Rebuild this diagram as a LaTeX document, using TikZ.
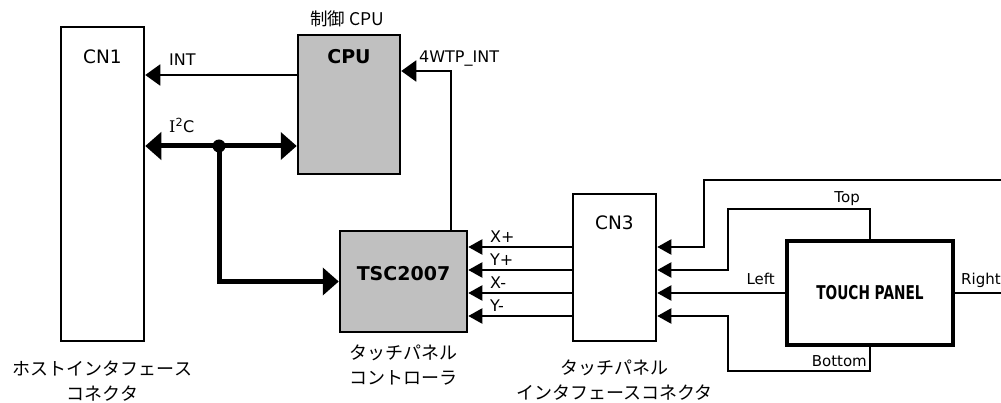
\documentclass[tikz,border=0pt]{standalone}
\usepackage{fontspec}
\setmainfont{DejaVu Sans}
\newfontfamily\jp{Noto Sans CJK JP}
\newfontfamily\narrowf[FakeStretch=0.72]{DejaVu Sans}
\newfontfamily\serifI{DejaVu Serif}
\usetikzlibrary{arrows.meta}
\definecolor{cgray}{HTML}{C0C0C0}
\begin{document}
\begin{tikzpicture}[x=1pt,y=-1pt,
  blk/.style={draw,line width=2.5pt,inner sep=0pt},
  wire/.style={line width=2pt},
  bus/.style={line width=5pt},
  tA/.style={-{Triangle[length=15pt,width=21pt]}},
  sA/.style={-{Triangle[length=14pt,width=15pt]}},
  bA/.style={-{Triangle[length=16pt,width=27pt]}},
  bAA/.style={{Triangle[length=16pt,width=27pt]}-{Triangle[length=16pt,width=27pt]}},
  big/.style={inner sep=0pt,font=\fontsize{18.5}{22}\selectfont},
  bigb/.style={inner sep=0pt,font=\fontsize{19}{22}\selectfont\bfseries},
  sml/.style={inner sep=0pt,font=\fontsize{15}{18}\selectfont},
  smm/.style={inner sep=0pt,font=\fontsize{16}{18}\selectfont},
  jpl/.style={inner sep=0pt,align=center,font=\fontsize{18}{25}\selectfont\jp}]
\useasboundingbox (0,0) rectangle (1001,403);

% blocks
\node[blk,minimum width=83pt,minimum height=314pt] (cn1) at (102.5,184) {};
\node[big] (cn1t) at (102.5,57) {CN1};
\node[blk,fill=cgray,minimum width=102pt,minimum height=139pt] (cpu) at (349,104.5) {};
\node[bigb] (cput) at (349,57) {CPU};
\node[inner sep=0pt,font=\fontsize{17.5}{20}\selectfont\jp] (cpuc) at (347,19) {制御 CPU};
\node[blk,fill=cgray,minimum width=127pt,minimum height=101pt] (tsc) at (403.5,281.5) {};
\node[bigb] (tsct) at (403.5,274) {TSC2007};
\node[blk,minimum width=83pt,minimum height=147pt] (cn3) at (614.5,267.5) {};
\node[big] (cn3t) at (614.5,223) {CN3};
\node[blk,line width=4pt,minimum width=166pt,minimum height=103pt,
      font=\fontsize{19}{22}\selectfont\narrowf\bfseries] (tp) at (870,293) {TOUCH PANEL};

% captions
\node[jpl] (cn1l) at (102.5,381.5) {ホストインタフェース\\コネクタ};
\node[jpl] (tscl) at (403.5,365.5) {タッチパネル\\コントローラ};
\node[jpl] (cn3l) at (614.5,380) {タッチパネル\\インタフェースコネクタ};

% INT
\coordinate (rint) at (0,75);
\draw[wire,tA] (rint -| cpu.west) -- (rint -| cn1.east);
\node[smm,anchor=base west] (intl) at (169,66) {INT};

% I2C bus
\coordinate (jn) at (219,146);
\draw[bus,bAA] (jn -| cn1.east) -- (jn -| cpu.west);
\draw[bus,bA] (jn) |- (tsc.west);
\fill (jn) circle (6.5);
\node[smm,anchor=base west] (i2cl) at (169,133) {{\serifI I}\textsuperscript{2}C};

% 4WTP_INT
\coordinate (c4) at (451,71);
\draw[wire,tA] (c4 |- tsc.north) -- (c4) -- (c4 -| cpu.east);
\node[smm,anchor=base west] (wtpl) at (419,63) {4WTP\_INT};

% signals CN3 -> TSC
\foreach \yy/\nm/\lab in {247/s1/X+,270/s2/Y+,293/s3/X-,316/s4/Y-}{
  \coordinate (\nm) at (0,\yy);
  \draw[wire,sA] (\nm -| cn3.west) -- (\nm -| tsc.east);
  \node[smm,anchor=base west] (\nm l) at (490,\yy-4) {\lab};
}

% touch panel -> CN3
\coordinate (edge) at (1001,0);
\coordinate (ca) at (704,180);
\coordinate (cb) at (728,209);
\coordinate (cc) at (728,371);
\draw[wire,sA] (edge |- ca) -- (ca) |- (s1 -| cn3.east);
\draw[wire,sA] (tp.north) |- (cb) |- (s2 -| cn3.east);
\draw[wire,sA] (s3 -| tp.west) -- (s3 -| cn3.east);
\draw[wire,sA] (tp.south) |- (cc) |- (s4 -| cn3.east);
\draw[wire] (tp.east) -- (edge |- tp.east);
\node[sml,anchor=base east] (topl) at (860,203) {Top};
\node[sml,anchor=base east] (leftl) at (775,284) {Left};
\node[sml,anchor=base east] (botl) at (867,366) {Bottom};
\node[sml,anchor=base west] (rightl) at (961,284) {Right};
\end{tikzpicture}
\end{document}
